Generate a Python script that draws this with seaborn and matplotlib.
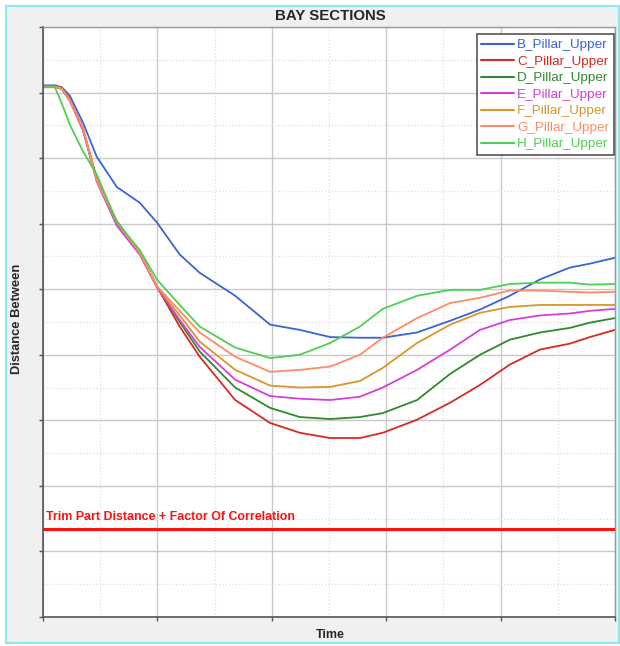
import matplotlib
matplotlib.use("Agg")
import matplotlib.pyplot as plt
import seaborn as sns
import pandas as pd
from matplotlib.patches import Rectangle

# ===== DATA =====
time = [0, 2.1, 3.3, 4.7, 7.0, 9.4, 12.9, 16.9, 19.9, 23.9, 27.4, 33.6, 39.7,
        44.9, 50.2, 55.4, 59.4, 65.4, 71.2, 76.4, 81.6, 86.9, 92.1, 95.6, 100]

b_pillar = [8.11, 8.11, 8.08, 7.95, 7.54, 7.02, 6.56, 6.32, 6.02, 5.53, 5.25, 4.90, 4.46,
            4.38, 4.27, 4.26, 4.26, 4.34, 4.52, 4.69, 4.90, 5.15, 5.33, 5.39, 5.48]
c_pillar = [8.09, 8.09, 8.06, 7.89, 7.44, 6.67, 6.02, 5.56, 5.04, 4.43, 3.97, 3.31, 2.96,
            2.81, 2.73, 2.73, 2.81, 3.01, 3.27, 3.54, 3.85, 4.08, 4.17, 4.27, 4.38]
d_pillar = [8.09, 8.09, 8.07, 7.90, 7.43, 6.69, 6.04, 5.57, 5.05, 4.50, 4.05, 3.50, 3.19,
            3.05, 3.02, 3.05, 3.11, 3.31, 3.71, 4.00, 4.23, 4.34, 4.41, 4.49, 4.56]
e_pillar = [8.09, 8.09, 8.05, 7.87, 7.42, 6.64, 5.97, 5.53, 5.03, 4.53, 4.12, 3.62, 3.37,
            3.33, 3.31, 3.36, 3.50, 3.77, 4.08, 4.38, 4.53, 4.60, 4.63, 4.67, 4.70]
f_pillar = [8.09, 8.09, 8.06, 7.89, 7.46, 6.68, 6.03, 5.56, 5.04, 4.60, 4.20, 3.77, 3.53,
            3.50, 3.51, 3.60, 3.80, 4.18, 4.46, 4.64, 4.73, 4.76, 4.76, 4.76, 4.76]
g_pillar = [8.09, 8.09, 8.06, 7.88, 7.45, 6.66, 6.02, 5.56, 5.05, 4.67, 4.34, 3.97, 3.74,
            3.77, 3.82, 4.00, 4.26, 4.56, 4.79, 4.87, 4.98, 4.98, 4.96, 4.95, 4.96]
h_pillar = [8.08, 8.08, 7.83, 7.51, 7.10, 6.75, 6.02, 5.60, 5.15, 4.76, 4.43, 4.11, 3.95,
            4.00, 4.18, 4.43, 4.70, 4.90, 4.99, 4.99, 5.08, 5.10, 5.10, 5.07, 5.08]

series_names = ["B_Pillar_Upper", "C_Pillar_Upper", "D_Pillar_Upper", "E_Pillar_Upper",
                "F_Pillar_Upper", "G_Pillar_Upper", "H_Pillar_Upper"]
series_values = [b_pillar, c_pillar, d_pillar, e_pillar, f_pillar, g_pillar, h_pillar]
series_colors = ["#3b63d6", "#d62a24", "#2f8a2f", "#d63fd6", "#d8962c", "#ff8a68", "#4fcf4f"]

threshold = 1.34
threshold_label = "Trim Part Distance + Factor Of Correlation"

# ===== STYLE =====
sns.set_style("whitegrid")
plt.rcParams['font.family'] = ['Liberation Sans', 'DejaVu Sans']

fig = plt.figure(figsize=(6.2, 6.46), dpi=100)
fig.patch.set_facecolor("white")

# window-like frame
fig.patches.append(Rectangle((0.009, 0.005), 0.99, 0.985, transform=fig.transFigure,
                             facecolor="#f0f0f0", edgecolor="#8ee8ee", linewidth=1.5,
                             zorder=-10))

ax = fig.add_axes([43 / 620, 29 / 646, 572 / 620, 590 / 646])
ax.set_facecolor("white")

long_df = pd.concat([
    pd.DataFrame({"Time": time, "Distance": vals, "Series": name})
    for name, vals in zip(series_names, series_values)
])

sns.lineplot(data=long_df, x="Time", y="Distance", hue="Series",
             palette=dict(zip(series_names, series_colors)), ax=ax,
             linewidth=1.3, legend=True, sort=False)

ax.axhline(threshold, color="#ff1010", linewidth=2.2, zorder=3)
ax.text(0.6, threshold + 0.1, threshold_label, color="#ff1010", fontsize=8.9,
        fontweight="bold", ha="left", va="bottom")

ax.set_xlim(0, 100)
ax.set_ylim(0, 9)
ax.set_xticks([0, 20, 40, 60, 80, 100])
ax.set_xticks([10, 30, 50, 70, 90], minor=True)
ax.set_yticks(range(0, 10))
ax.set_yticks([i + 0.5 for i in range(9)], minor=True)
ax.set_xticklabels([])
ax.set_yticklabels([])
ax.grid(True, which="major", color="#c9c9c9", linewidth=1.0, linestyle="-")
ax.grid(True, which="minor", color="#dedede", linewidth=0.9, linestyle=":")
ax.tick_params(axis="both", which="major", direction="out", length=3, width=1,
               color="#555555", left=True, bottom=True)
ax.tick_params(axis="both", which="minor", length=0)

for side in ["left", "bottom"]:
    ax.spines[side].set_color("#555555")
    ax.spines[side].set_linewidth(1.2)
for side in ["top", "right"]:
    ax.spines[side].set_color("#9a9a9a")
    ax.spines[side].set_linewidth(1.0)

ax.set_xlabel("")
ax.set_ylabel("")
fig.text(330 / 620, 1 - 635 / 646, "Time", ha="center", va="center",
         fontsize=9, fontweight="bold")
fig.text(17 / 620, 1 - 319 / 646, "Distance Between", ha="center", va="center",
         rotation=90, fontsize=9.3, fontweight="bold")
fig.text(330 / 620, 1 - 16 / 646, "BAY SECTIONS", ha="center", va="center",
         fontsize=10.8, fontweight="bold")

leg = ax.legend(loc="upper right", bbox_to_anchor=(1.0, 0.99), fontsize=9.7,
                frameon=True, fancybox=False, framealpha=1, edgecolor="#555555",
                handlelength=2.4, handletextpad=0.25, labelspacing=0.3,
                borderpad=0.35, borderaxespad=0.1)
leg.get_frame().set_linewidth(1.2)
for txt, col in zip(leg.get_texts(), series_colors):
    txt.set_color(col)
for line in leg.get_lines():
    line.set_linewidth(1.5)

fig.savefig("out.png", dpi=100)
